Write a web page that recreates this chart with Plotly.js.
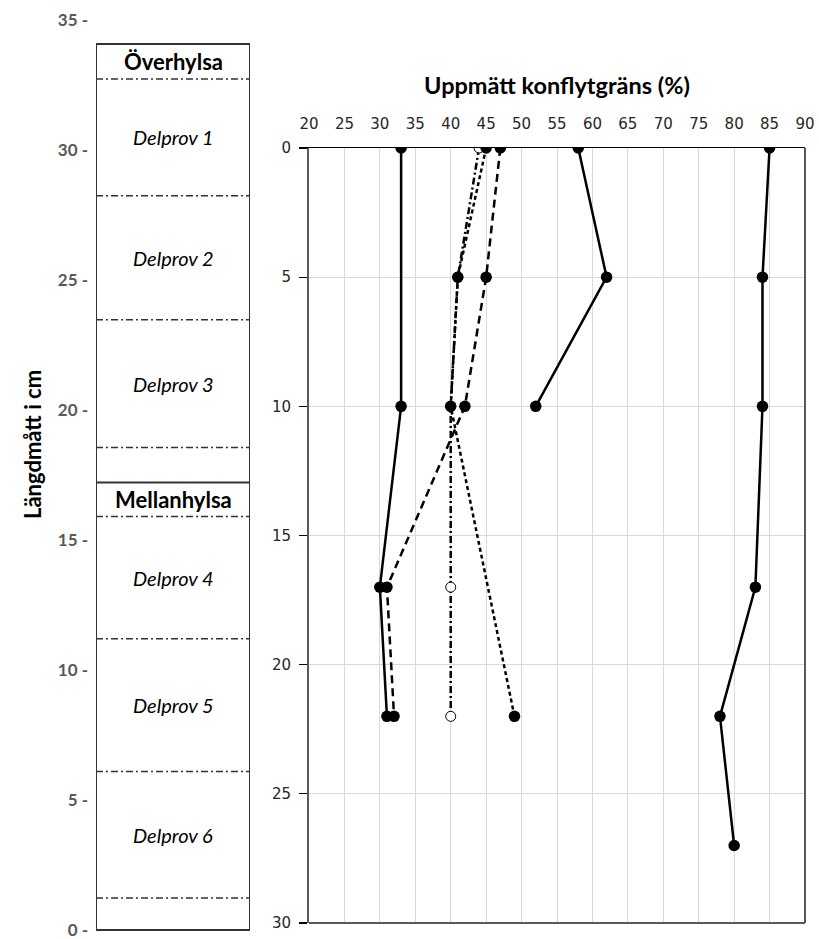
<!DOCTYPE html>
<html>
<head>
<meta charset="utf-8">
<script src="https://cdn.plot.ly/plotly-3.0.1.min.js"></script>
<style>html,body{margin:0;padding:0;background:#fff;}#chart{width:819px;height:939px;}</style>
</head>
<body>
<div id="chart"></div>
<script>
// ---- data ----
const seriesA_x = [33, 33, 30, 31];
const seriesA_y = [0, 10, 17, 22];
const seriesB_x = [47, 45, 42, 31, 32];
const seriesB_y = [0, 5, 10, 17, 22];
const seriesD_x = [45, 41, 40, 49];
const seriesD_y = [0, 5, 10, 22];
const seriesE_x = [44, 41, 40, 40, 40];
const seriesE_y = [0, 5, 10, 17, 22];
const seriesF_x = [58, 62, 52];
const seriesF_y = [0, 5, 10];
const seriesG_x = [85, 84, 84, 83, 78, 80];
const seriesG_y = [0, 5, 10, 17, 22, 27];

// core sections (length in cm)
const sectionBounds = [34.08, 32.73, 28.24, 23.47, 18.56, 17.21, 15.9, 11.2, 6.1, 1.23, 0];
const solidBounds = [34.08, 17.21, 0];
const sectionLabels = ["Överhylsa", "Delprov 1", "Delprov 2", "Delprov 3", null, "Mellanhylsa", "Delprov 4", "Delprov 5", "Delprov 6", null];
const leftTicks = [0, 5, 10, 15, 20, 25, 30, 35];
const leftTickText = ["0 -", "5 -", "10 -", "15 -", "20 -", "25 -", "30 -", "35 -"];

const xTitle = "Uppmätt konflytgräns (%)";
const yTitleLeft = "Längdmått i cm";

// ---- traces ----
const mk = {color: "#000", size: 11.5};
const traces = [
  {x: seriesE_x, y: seriesE_y, mode: "lines+markers", line: {color: "#000", width: 2.5, dash: "7px,3px,2px,3px"},
   marker: {color: "#fff", size: 10, line: {color: "#000", width: 1}}, xaxis: "x", yaxis: "y"},
  {x: seriesD_x, y: seriesD_y, mode: "lines+markers", line: {color: "#000", width: 2.5, dash: "4px,3px"}, marker: mk, xaxis: "x", yaxis: "y"},
  {x: seriesB_x, y: seriesB_y, mode: "lines+markers", line: {color: "#000", width: 2.5, dash: "8px,5px"}, marker: mk, xaxis: "x", yaxis: "y"},
  {x: seriesA_x, y: seriesA_y, mode: "lines+markers", line: {color: "#000", width: 2.5}, marker: mk, xaxis: "x", yaxis: "y"},
  {x: seriesF_x, y: seriesF_y, mode: "lines+markers", line: {color: "#000", width: 2.5}, marker: mk, xaxis: "x", yaxis: "y"},
  {x: seriesG_x, y: seriesG_y, mode: "lines+markers", line: {color: "#000", width: 2.5}, marker: mk, xaxis: "x", yaxis: "y"}
];

// ---- left panel shapes / labels ----
const shapes = [];
const annotations = [];
shapes.push({type: "rect", xref: "x2", yref: "y2", x0: 0, x1: 1, y0: 0, y1: sectionBounds[0], line: {color: "#333", width: 2}});
sectionBounds.forEach(function (b) {
  if (b === sectionBounds[0] || b === 0) return;
  const solid = solidBounds.indexOf(b) >= 0;
  shapes.push({type: "line", xref: "x2", yref: "y2", x0: 0, x1: 1, y0: b, y1: b,
    line: {color: "#333", width: solid ? 2 : 1.5, dash: solid ? "solid" : "7px,3px,2px,3px"}});
});
for (let i = 0; i < sectionLabels.length; i++) {
  const t = sectionLabels[i];
  if (!t) continue;
  const mid = (sectionBounds[i] + sectionBounds[i + 1]) / 2;
  const isHylsa = t.indexOf("hylsa") >= 0;
  annotations.push({xref: "x2", yref: "y2", x: 0.5, y: mid, showarrow: false, text: t,
    font: isHylsa ? {family: "Lato", size: 22, color: "#000", weight: "bold"}
                  : {family: "Lato", size: 20, color: "#000", style: "italic"}});
}
// left axis title
annotations.push({xref: "paper", yref: "paper", x: 32 / 819, y: (939 - 445) / 939, xanchor: "center", yanchor: "middle",
  textangle: -90, showarrow: false, text: yTitleLeft, font: {family: "Lato", size: 22, color: "#000", weight: "bold"}});

// right plot borders
shapes.push({type: "line", xref: "x domain", yref: "y domain", x0: 1, x1: 1, y0: 0, y1: 1, line: {color: "#595959", width: 2}});
shapes.push({type: "line", xref: "x domain", yref: "y domain", x0: 0, x1: 1, y0: 0, y1: 0, line: {color: "#595959", width: 2}});

const W = 819, H = 939;
const layout = {
  width: W, height: H, margin: {l: 0, r: 0, t: 0, b: 0},
  paper_bgcolor: "#fff", plot_bgcolor: "#fff", showlegend: false,
  xaxis: {domain: [309 / W, 805 / W], range: [20, 90], dtick: 5, side: "top", anchor: "y",
    showgrid: true, gridcolor: "#d9d9d9", gridwidth: 1, zeroline: false,
    showline: true, linecolor: "#000", linewidth: 1.5, ticks: "", ticklabelstandoff: 12,
    tickfont: {family: "DejaVu Sans", size: 15, color: "#262626"},
    title: {text: xTitle, standoff: 13, font: {family: "Lato", size: 23.5, color: "#000", weight: "bold"}}},
  yaxis: {domain: [(H - 923) / H, (H - 148) / H], range: [30, 0], dtick: 5, anchor: "x",
    showgrid: true, gridcolor: "#d9d9d9", gridwidth: 1, zeroline: false,
    showline: true, linecolor: "#595959", linewidth: 2,
    ticks: "outside", ticklen: 8, tickcolor: "#000", tickwidth: 1.2, ticklabelstandoff: 5,
    tickfont: {family: "DejaVu Sans", size: 15, color: "#262626"}},
  xaxis2: {domain: [96 / W, 250 / W], range: [0, 1], anchor: "y2", visible: false, fixedrange: true},
  yaxis2: {domain: [2.5 / H, (H - 20) / H], range: [-0.25, 35], tickmode: "array", tickvals: leftTicks, ticktext: leftTickText,
    anchor: "x2", ticklabeloverflow: "allow",
    showgrid: false, zeroline: false, showline: false, ticks: "", ticklabelstandoff: 7,
    tickfont: {family: "Lato", size: 17, color: "#595959", weight: "bold"}},
  shapes: shapes,
  annotations: annotations
};

Plotly.newPlot("chart", traces, layout, {displayModeBar: false, staticPlot: true});
</script>
</body>
</html>
